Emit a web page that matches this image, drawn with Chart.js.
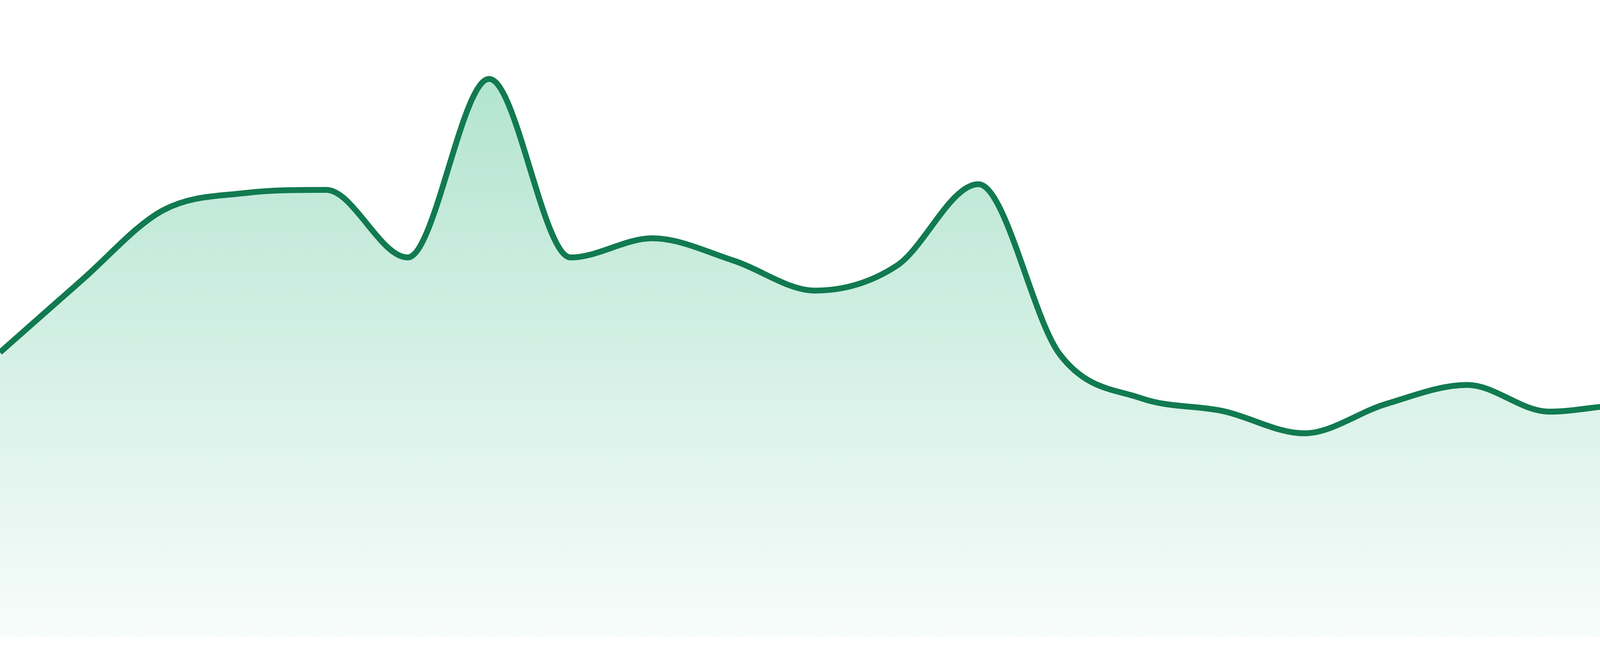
<!DOCTYPE html>
<html>
<head>
<meta charset="utf-8">
<title>Trend</title>
<script src="https://cdn.jsdelivr.net/npm/chart.js@4/dist/chart.umd.min.js"></script>
<style>
  html, body { margin: 0; padding: 0; background: #fff; }
  #wrap { width: 4800px; height: 1680px; position: relative; }
</style>
</head>
<body>
<div id="wrap"><canvas id="chart"></canvas></div>
<script>
// one point per period (0-100 scale)
const labels = [
  '1', '2', '3', '4', '5', '6', '7', '8', '9', '10', '11', '12',
  '13', '14', '15', '16', '17', '18', '19', '20', '21', '22', '23', '24'
]
const values = [
  44.7, 56.0, 67.0, 69.7, 70.2, 59.6, 87.6, 59.6, 62.6, 59.1, 54.4, 58.3,
  71.1, 44.4, 37.5, 35.5, 32.0, 36.6, 39.6, 35.4, 36.5, 34.4, 36.4, 31.4
]
const yMin = 0
const yMax = 100

const lineColor = '#117a50'

function areaFill(context) {
  const chart = context.chart
  const area = chart.chartArea
  if (!area) return 'rgba(16, 170, 112, 0.2)'
  const g = chart.ctx.createLinearGradient(0, area.top, 0, area.bottom)
  g.addColorStop(0, 'rgba(16, 170, 112, 0.36)')
  g.addColorStop(1, 'rgba(16, 170, 112, 0.03)')
  return g
}

new Chart(document.getElementById('chart'), {
  type: 'line',
  data: {
    labels: labels,
    datasets: [{
      data: values,
      borderColor: lineColor,
      borderWidth: 15,
      backgroundColor: areaFill,
      fill: 'start',
      cubicInterpolationMode: 'monotone',
      pointRadius: 0,
      pointHoverRadius: 0
    }]
  },
  options: {
    responsive: true,
    maintainAspectRatio: false,
    devicePixelRatio: 1,
    animation: false,
    layout: {
      padding: { top: 0, right: 0, bottom: 48, left: 0 }
    },
    plugins: {
      legend: { display: false },
      tooltip: { enabled: false }
    },
    scales: {
      x: { display: false, offset: false },
      y: { display: false, min: yMin, max: yMax }
    }
  }
})
</script>
</body>
</html>
